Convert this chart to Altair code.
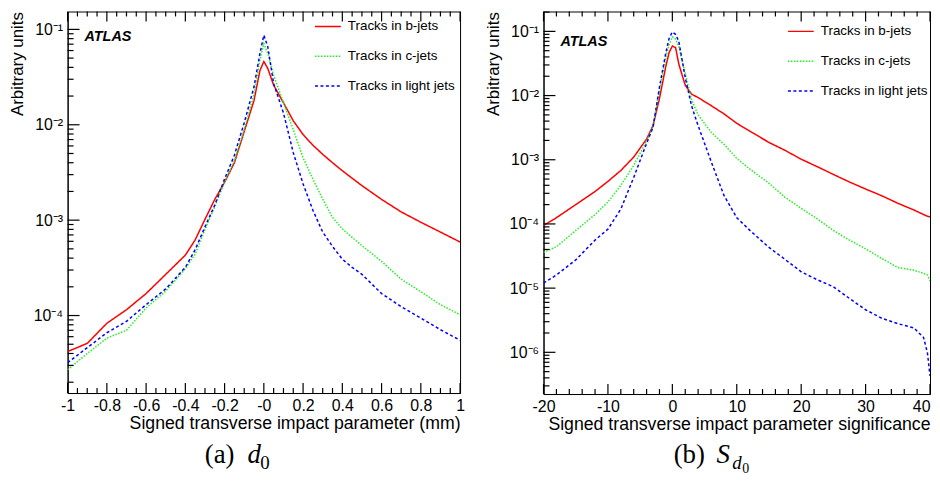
import altair as alt
import pandas as pd

SERIES = ["Tracks in b-jets", "Tracks in c-jets", "Tracks in light jets"]
COLORS = ["#ff0000", "#22ee22", "#0000ff"]
DASHES = [[1, 0], [1.5, 1.5], [3, 2.5]]
FONT = "Liberation Sans"

# ---- panel (a): d0 ----
d0_x = [-1, -0.9, -0.8, -0.7, -0.6, -0.5, -0.4, -0.35, -0.3, -0.25, -0.2, -0.15, -0.1, -0.05, -0.02, 0,
        0.02, 0.05, 0.1, 0.15, 0.2, 0.25, 0.3, 0.35, 0.4, 0.45, 0.5, 0.6, 0.7, 0.8, 0.9, 1.0]
d0_b = [4.2e-5, 5.1e-5, 8.3e-5, 1.15e-4, 1.7e-4, 2.7e-4, 4.3e-4, 6.2e-4, 1.02e-3, 1.65e-3, 2.5e-3, 4.0e-3,
        8.5e-3, 1.8e-2, 3.7e-2, 4.6e-2, 3.9e-2, 2.6e-2, 1.7e-2, 1.1e-2, 7.9e-3, 6.1e-3, 4.9e-3, 4.0e-3,
        3.3e-3, 2.75e-3, 2.3e-3, 1.65e-3, 1.22e-3, 9.5e-4, 7.5e-4, 5.9e-4]
d0_c = [2.7e-5, 4.0e-5, 5.8e-5, 7.0e-5, 1.2e-4, 1.8e-4, 3.1e-4, 4.4e-4, 8.0e-4, 1.38e-3, 2.5e-3, 4.2e-3,
        8.9e-3, 2.1e-2, 4.8e-2, 7.1e-2, 5.6e-2, 3.3e-2, 1.7e-2, 8.9e-3, 4.5e-3, 2.7e-3, 1.66e-3, 1.07e-3,
        8.1e-4, 6.6e-4, 5.4e-4, 3.7e-4, 2.4e-4, 1.78e-4, 1.3e-4, 1.02e-4]
d0_l = [3.2e-5, 4.6e-5, 6.6e-5, 8.7e-5, 1.3e-4, 1.9e-4, 3.2e-4, 4.9e-4, 8.5e-4, 1.44e-3, 2.7e-3, 4.8e-3,
        1.05e-2, 2.5e-2, 5.6e-2, 8.7e-2, 6.6e-2, 2.7e-2, 1.33e-2, 5.1e-3, 2.4e-3, 1.27e-3, 7.5e-4, 5.3e-4,
        3.9e-4, 3.2e-4, 2.7e-4, 1.7e-4, 1.24e-4, 9.4e-5, 7.1e-5, 5.5e-5]

# ---- panel (b): S_d0 ----
sd0_x = [-20, -18, -15, -12, -10, -8, -6, -4, -3, -2, -1, -0.5, 0, 0.5, 1, 2, 3, 4, 6, 8, 10, 12, 15,
         17.5, 20, 22.5, 25, 27.5, 30, 32.5, 35, 37.5, 39, 39.6, 40]
sd0_b = [9.5e-5, 1.25e-4, 2.0e-4, 3.2e-4, 4.6e-4, 6.8e-4, 1.1e-3, 2.1e-3, 3.4e-3, 9.0e-3, 2.9e-2, 4.7e-2,
         5.9e-2, 5.6e-2, 3.1e-2, 1.45e-2, 1.05e-2, 9.3e-3, 7.0e-3, 5.2e-3, 3.7e-3, 2.8e-3, 1.86e-3, 1.4e-3,
         1.02e-3, 7.8e-4, 5.9e-4, 4.5e-4, 3.5e-4, 2.75e-4, 2.1e-4, 1.65e-4, 1.4e-4, 1.32e-4, 1.29e-4]
sd0_c = [3.6e-5, 4.4e-5, 7.9e-5, 1.4e-4, 2.2e-4, 4.0e-4, 8.2e-4, 1.95e-3, 3.3e-3, 1.2e-2, 4.0e-2, 6.2e-2,
         8.2e-2, 7.6e-2, 5.8e-2, 2.2e-2, 8.5e-3, 5.0e-3, 2.7e-3, 1.75e-3, 1.05e-3, 7.2e-4, 4.3e-4, 2.6e-4,
         1.75e-4, 1.2e-4, 7.9e-5, 5.6e-5, 4.1e-5, 2.9e-5, 2.1e-5, 1.9e-5, 1.7e-5, 1.6e-5, 1.3e-5]
sd0_l = [1.2e-5, 1.6e-5, 2.75e-5, 5.6e-5, 8.3e-5, 1.7e-4, 5.3e-4, 1.8e-3, 3.2e-3, 1.35e-2, 4.7e-2, 7.8e-2,
         9.8e-2, 9.0e-2, 7.0e-2, 1.9e-2, 6.8e-3, 3.4e-3, 9.5e-4, 2.8e-4, 1.25e-4, 8.0e-5, 4.3e-5, 2.8e-5,
         1.8e-5, 1.35e-5, 1.05e-5, 6.9e-6, 4.6e-6, 3.4e-6, 2.8e-6, 2.4e-6, 1.7e-6, 9.8e-7, 4.3e-7]

# axis tick positions
a_major_x = [round(-1 + 0.2 * i, 2) for i in range(11)]
a_minor_x = [round(-1 + 0.05 * i, 2) for i in range(41) if i % 4 != 0]
b_major_x = [-20, -10, 0, 10, 20, 30, 40]
b_minor_x = [v for v in range(-20, 41, 2) if v % 10 != 0]

SUP = "['10\u207b\u2077','10\u207b\u2076','10\u207b\u2075','10\u207b\u2074','10\u207b\u00b3','10\u207b\u00b2','10\u207b\u00b9'][round(log(datum.value)/LN10)+7]"


def text_layer(txt, x, y, size, font=FONT, style="normal", weight="normal", align="left"):
    return alt.Chart(pd.DataFrame({"t": [txt]})).mark_text(
        font=font, fontSize=size, fontStyle=style, fontWeight=weight, align=align,
        baseline="alphabetic", color="black").encode(text="t:N", x=alt.value(x), y=alt.value(y))


def panel(xs, ys, xdom, ydom, W, H, xtitle, major_x, minor_x, major_y, minor_y, x_label_expr,
          x_label_align, leg_x, leg_y, row_pad, texts):
    rows = []
    for name, vals in zip(SERIES, ys):
        for xv, yv in zip(xs, vals):
            rows.append({"x": xv, "y": yv, "series": name})
    df = pd.DataFrame(rows)
    xs_ = alt.Scale(domain=xdom, nice=False, zero=False)
    ys_ = alt.Scale(type="log", domain=ydom, nice=False)
    xaxis = alt.Axis(
        title=xtitle, values=major_x, labelExpr=x_label_expr, ticks=False, tickSize=0,
        labelFont=FONT, labelFontSize=16, titleFont=FONT, titleFontSize=17.8,
        titleFontWeight="normal", titleAnchor="end", labelPadding=5, titlePadding=2,
        minExtent=20, maxExtent=20, labelFlush=False, labelOverlap=False, grid=False,
        labelAlign=x_label_align)
    yaxis = alt.Axis(
        title="Arbitrary units", values=major_y, labelExpr=SUP, ticks=False, tickSize=0,
        labelFont=FONT, labelFontSize=16, titleFont=FONT, titleFontSize=17,
        titleFontWeight="normal", titleAnchor="end", labelPadding=5, titlePadding=3,
        minExtent=38, maxExtent=38, labelOverlap=False, grid=False)
    leg = alt.Legend(title=None, orient="none", legendX=leg_x, legendY=leg_y, symbolType="stroke",
                     symbolSize=676, symbolStrokeWidth=1.5, labelFont=FONT, labelFontSize=13.5,
                     labelColor="black", rowPadding=row_pad, padding=0, labelOffset=6)
    lines = alt.Chart(df).mark_line(clip=True, strokeWidth=1.5).encode(
        x=alt.X("x:Q", scale=xs_, axis=xaxis),
        y=alt.Y("y:Q", scale=ys_, axis=yaxis),
        color=alt.Color("series:N", scale=alt.Scale(domain=SERIES, range=COLORS), legend=leg),
        strokeDash=alt.StrokeDash("series:N", scale=alt.Scale(domain=SERIES, range=DASHES), legend=leg),
    )
    layers = [lines]

    def xticks(vals, length):
        d = pd.DataFrame({"x": vals})
        bot = alt.Chart(d).mark_rule(color="black", strokeWidth=1.2, opacity=1).encode(
            x=alt.X("x:Q", scale=xs_, axis=None), y=alt.value(H), y2=alt.value(H - length))
        top = alt.Chart(d).mark_rule(color="black", strokeWidth=1.2, opacity=1).encode(
            x=alt.X("x:Q", scale=xs_, axis=None), y=alt.value(0), y2=alt.value(length))
        return [bot, top]

    def yticks(vals, length):
        d = pd.DataFrame({"y": vals})
        return [alt.Chart(d).mark_rule(color="black", strokeWidth=1.2, opacity=1).encode(
            y=alt.Y("y:Q", scale=ys_, axis=None), x=alt.value(0), x2=alt.value(length))]

    layers += xticks(major_x, 10) + xticks(minor_x, 5) + yticks(major_y, 12) + yticks(minor_y, 6)
    layers += texts
    return alt.layer(*layers).resolve_axis(x="independent", y="independent").properties(width=W, height=H)


def log_minor(lo, hi, e0, e1):
    return [k * 10.0 ** e for e in range(e0, e1) for k in range(2, 10) if lo <= k * 10.0 ** e <= hi]


a_dom = [1.54e-5, 0.154]
b_dom = [2.24e-7, 0.204]

left = panel(
    d0_x, [d0_b, d0_c, d0_l], [-1, 1], a_dom, 395, 384,
    "Signed transverse impact parameter (mm)", a_major_x, a_minor_x,
    [1e-4, 1e-3, 1e-2, 1e-1], log_minor(a_dom[0], a_dom[1], -5, 0),
    "datum.value == 0 ? '-0' : (datum.value < 0 ? '-' : '') + format(abs(datum.value), '~g')",
    "center",
    248, 1, 9,
    [text_layer("ATLAS", 17, 30, 14.5, style="italic", weight="bold"),
     text_layer("(a)", 138, 454, 27, font="Liberation Serif"),
     text_layer("d", 181, 454, 27, font="Liberation Serif", style="italic"),
     text_layer("0", 194, 460, 19, font="Liberation Serif")],
)

right = panel(
    sd0_x, [sd0_b, sd0_c, sd0_l], [-20, 40], b_dom, 389, 385,
    "Signed transverse impact parameter significance", b_major_x, b_minor_x,
    [1e-6, 1e-5, 1e-4, 1e-3, 1e-2, 1e-1], log_minor(b_dom[0], b_dom[1], -7, 0),
    "(datum.value < 0 ? '-' : '') + format(abs(datum.value), '~g')",
    {"condition": {"test": "datum.value == 40", "value": "right"}, "value": "center"},
    245, 6, 9,
    [text_layer("ATLAS", 17, 35, 14.5, style="italic", weight="bold"),
     text_layer("(b)", 131, 454, 27, font="Liberation Serif"),
     text_layer("S", 174, 454, 27, font="Liberation Serif", style="italic"),
     text_layer("d", 190, 460, 19, font="Liberation Serif", style="italic"),
     text_layer("0", 200, 464, 14, font="Liberation Serif")],
)

chart = alt.hconcat(left, right, spacing=19).resolve_scale(
    color="independent", strokeDash="independent"
).resolve_legend(
    color="independent", strokeDash="independent"
).properties(
    padding={"left": 0, "top": 0, "right": 0, "bottom": 0}
).configure_view(stroke="black", strokeWidth=1).configure_axis(
    domainColor="black", domainWidth=1, labelColor="black", titleColor="black", grid=False
)

chart.save("out.html", embed_options={"renderer": "svg", "actions": False})
